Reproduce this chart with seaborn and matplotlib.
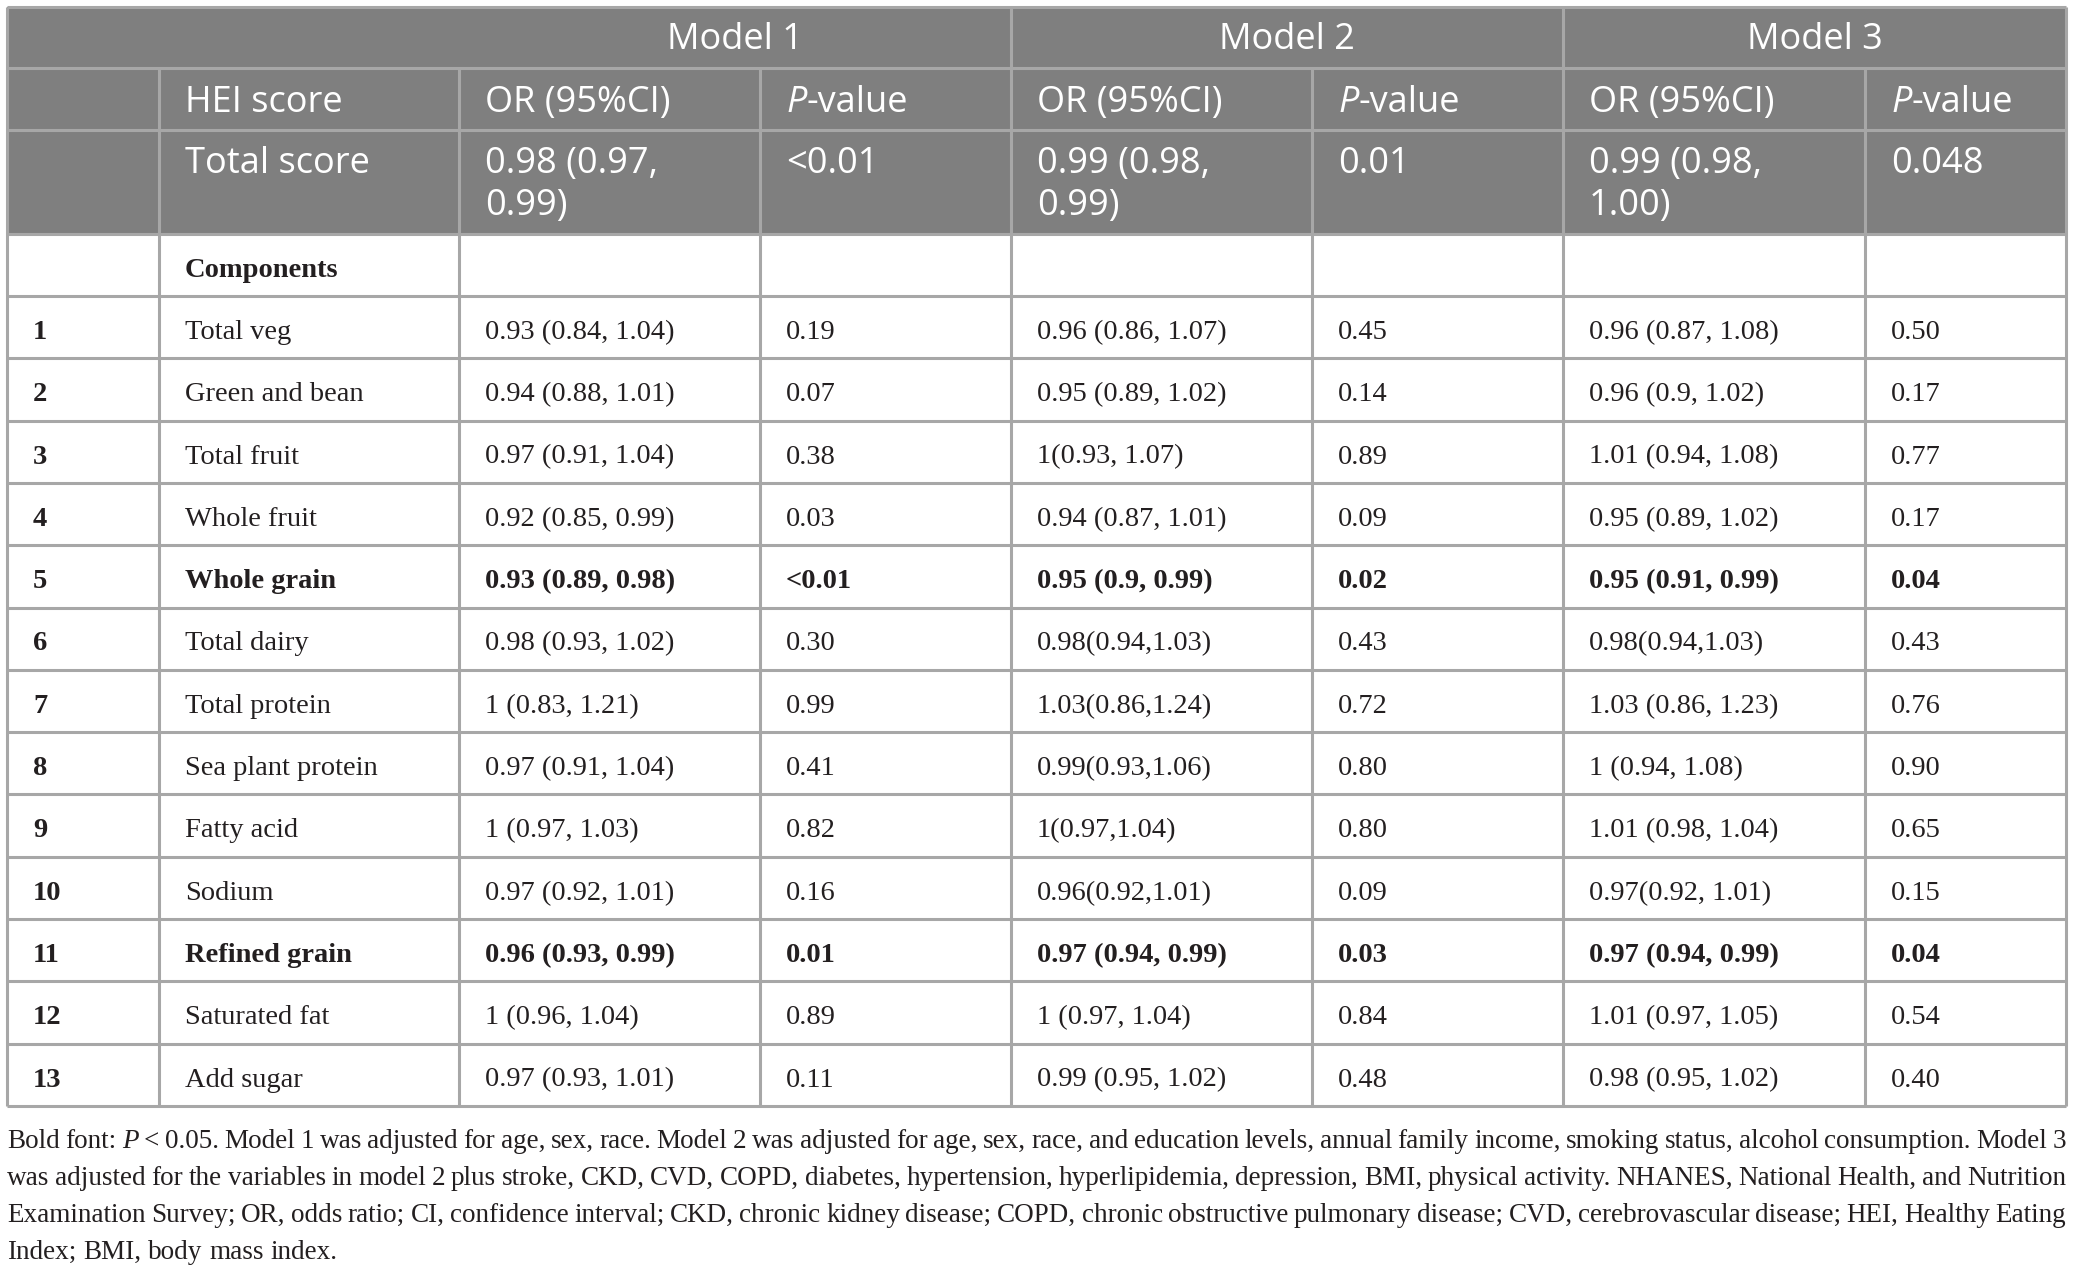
import matplotlib
matplotlib.use("Agg")
import matplotlib.pyplot as plt
from matplotlib.patches import Rectangle
import seaborn as sns

# Table content
models = ["Model 1", "Model 2", "Model 3"]
head_labels = ["", "HEI score", "OR (95%CI)", "P-value", "OR (95%CI)", "P-value", "OR (95%CI)", "P-value"]
total_row = ["", "Total score", "0.98 (0.97,\n0.99)", "<0.01", "0.99 (0.98,\n0.99)", "0.01", "0.99 (0.98,\n1.00)", "0.048"]
section_label = "Components"

numbers = ["1", "2", "3", "4", "5", "6", "7", "8", "9", "10", "11", "12", "13"]
components = ["Total veg", "Green and bean", "Total fruit", "Whole fruit", "Whole grain",
              "Total dairy", "Total protein", "Sea plant protein", "Fatty acid", "Sodium",
              "Refined grain", "Saturated fat", "Add sugar"]
m1_or = ["0.93 (0.84, 1.04)", "0.94 (0.88, 1.01)", "0.97 (0.91, 1.04)", "0.92 (0.85, 0.99)",
         "0.93 (0.89, 0.98)", "0.98 (0.93, 1.02)", "1 (0.83, 1.21)", "0.97 (0.91, 1.04)",
         "1 (0.97, 1.03)", "0.97 (0.92, 1.01)", "0.96 (0.93, 0.99)", "1 (0.96, 1.04)",
         "0.97 (0.93, 1.01)"]
m1_p = ["0.19", "0.07", "0.38", "0.03", "<0.01", "0.30", "0.99", "0.41", "0.82", "0.16",
        "0.01", "0.89", "0.11"]
m2_or = ["0.96 (0.86, 1.07)", "0.95 (0.89, 1.02)", "1(0.93, 1.07)", "0.94 (0.87, 1.01)",
         "0.95 (0.9, 0.99)", "0.98(0.94,1.03)", "1.03(0.86,1.24)", "0.99(0.93,1.06)",
         "1(0.97,1.04)", "0.96(0.92,1.01)", "0.97 (0.94, 0.99)", "1 (0.97, 1.04)",
         "0.99 (0.95, 1.02)"]
m2_p = ["0.45", "0.14", "0.89", "0.09", "0.02", "0.43", "0.72", "0.80", "0.80", "0.09",
        "0.03", "0.84", "0.48"]
m3_or = ["0.96 (0.87, 1.08)", "0.96 (0.9, 1.02)", "1.01 (0.94, 1.08)", "0.95 (0.89, 1.02)",
         "0.95 (0.91, 0.99)", "0.98(0.94,1.03)", "1.03 (0.86, 1.23)", "1 (0.94, 1.08)",
         "1.01 (0.98, 1.04)", "0.97(0.92, 1.01)", "0.97 (0.94, 0.99)", "1.01 (0.97, 1.05)",
         "0.98 (0.95, 1.02)"]
m3_p = ["0.50", "0.17", "0.77", "0.17", "0.04", "0.43", "0.76", "0.90", "0.65", "0.15",
        "0.04", "0.54", "0.40"]
bold_rows = ["5", "11"]

notes = [
    "Bold font: P < 0.05. Model 1 was adjusted for age, sex, race. Model 2 was adjusted for age, sex, race, and education levels, annual family income, smoking status, alcohol consumption. Model 3",
    "was adjusted for the variables in model 2 plus stroke, CKD, CVD, COPD, diabetes, hypertension, hyperlipidemia, depression, BMI, physical activity. NHANES, National Health, and Nutrition",
    "Examination Survey; OR, odds ratio; CI, confidence interval; CKD, chronic kidney disease; COPD, chronic obstructive pulmonary disease; CVD, cerebrovascular disease; HEI, Healthy Eating",
    "Index; BMI, body mass index.",
]

# Layout (pixels)
W, H = 2074, 1272
col_edges = [7, 159, 459, 760, 1011, 1312, 1563, 1865, 2066]
row_edges = [7, 68, 130, 234, 296] + [296 + 62.3 * (i + 1) for i in range(13)]
header_gray = "#7f7f7f"
line_col = "#a7a7a7"
ink = "#231f20"
sans = "Open Sans"
serif = "Liberation Serif"
fs_head = 26
fs_body = 20.5

sns.set_theme(style="white")
plt.rcParams["font.family"] = [serif, "DejaVu Serif"]

fig = plt.figure(figsize=(W / 100, H / 100), dpi=100)
ax = fig.add_axes([0, 0, 1, 1])
ax.set_xlim(0, W)
ax.set_ylim(H, 0)
ax.axis("off")
renderer = fig.canvas.get_renderer()

# header background
ax.add_patch(Rectangle((col_edges[0], row_edges[0]), col_edges[-1] - col_edges[0],
                       row_edges[3] - row_edges[0], color=header_gray, lw=0))

# grid lines
lw = 2.2
ax.hlines(row_edges, col_edges[0], col_edges[-1], color=line_col, lw=lw)
ax.vlines([col_edges[0], col_edges[-1], col_edges[4], col_edges[6]],
          row_edges[0], row_edges[-1], color=line_col, lw=lw)
ax.vlines([col_edges[1], col_edges[2], col_edges[3], col_edges[5], col_edges[7]],
          row_edges[1], row_edges[-1], color=line_col, lw=lw)


def text_width(s, **kw):
    t = ax.text(0, 0, s, **kw)
    w = t.get_window_extent(renderer).width
    t.remove()
    return w


def put_runs(x, y, runs, **kw):
    for s, extra in runs:
        t = ax.text(x, y, s, va="baseline", ha="left", **kw, **extra)
        x += t.get_window_extent(renderer).width


def cell_x(c):
    return col_edges[c] + 26


head_kw = dict(family=[sans, "DejaVu Sans"], fontsize=fs_head, color="white")

# model titles
for i, m in enumerate(models):
    left = col_edges[2 + 2 * i]
    right = col_edges[4 + 2 * i]
    ax.text((left + right) / 2, 49, m, ha="center", va="baseline", **head_kw)

# column labels
for c, lab in enumerate(head_labels):
    if lab == "P-value":
        put_runs(cell_x(c), 112, [("P", {"style": "italic"}), ("-value", {})], **head_kw)
    elif lab:
        ax.text(cell_x(c), 112, lab, ha="left", va="baseline", **head_kw)

# total score row
for c, val in enumerate(total_row):
    for k, part in enumerate(val.split("\n")):
        ax.text(cell_x(c), 173 + 42 * k, part, ha="left", va="baseline", **head_kw)

# components label
ax.text(cell_x(1), row_edges[3] + 43, section_label, ha="left", va="baseline",
        family=[serif], fontsize=fs_body, fontweight="bold", color=ink)

# body rows
cols = [numbers, components, m1_or, m1_p, m2_or, m2_p, m3_or, m3_p]
for r in range(len(numbers)):
    top = row_edges[4 + r]
    is_bold = numbers[r] in bold_rows
    for c, col in enumerate(cols):
        weight = "bold" if (c == 0 or is_bold) else "normal"
        ax.text(cell_x(c), top + 43, col[r], ha="left", va="baseline",
                family=[serif], fontsize=fs_body, fontweight=weight, color=ink)

# footnote, justified
left, right = col_edges[0], col_edges[-1]
avail = right - left


def word_style(w):
    return {"style": "italic"} if w == "P" else {}


fs_note = 20.5
while True:
    kw = dict(family=[serif], fontsize=fs_note)
    space = text_width("a a", **kw) - text_width("aa", **kw)
    widths = [[text_width(w, **kw, **word_style(w)) for w in line.split(" ")] for line in notes]
    natural = max(sum(ws) + 0.7 * space * (len(ws) - 1) for ws in widths)
    if natural <= avail or fs_note < 14:
        break
    fs_note -= 0.25

for i, line in enumerate(notes):
    words = line.split(" ")
    ws = widths[i]
    y = 1148 + 37 * i
    if i < len(notes) - 1 and len(words) > 1:
        gap = (avail - sum(ws)) / (len(words) - 1)
    else:
        gap = space
    x = left
    for w, wd in zip(words, ws):
        ax.text(x, y, w, ha="left", va="baseline", family=[serif], fontsize=fs_note,
                color=ink, **word_style(w))
        x += wd + gap

fig.savefig("out.png", dpi=100)
